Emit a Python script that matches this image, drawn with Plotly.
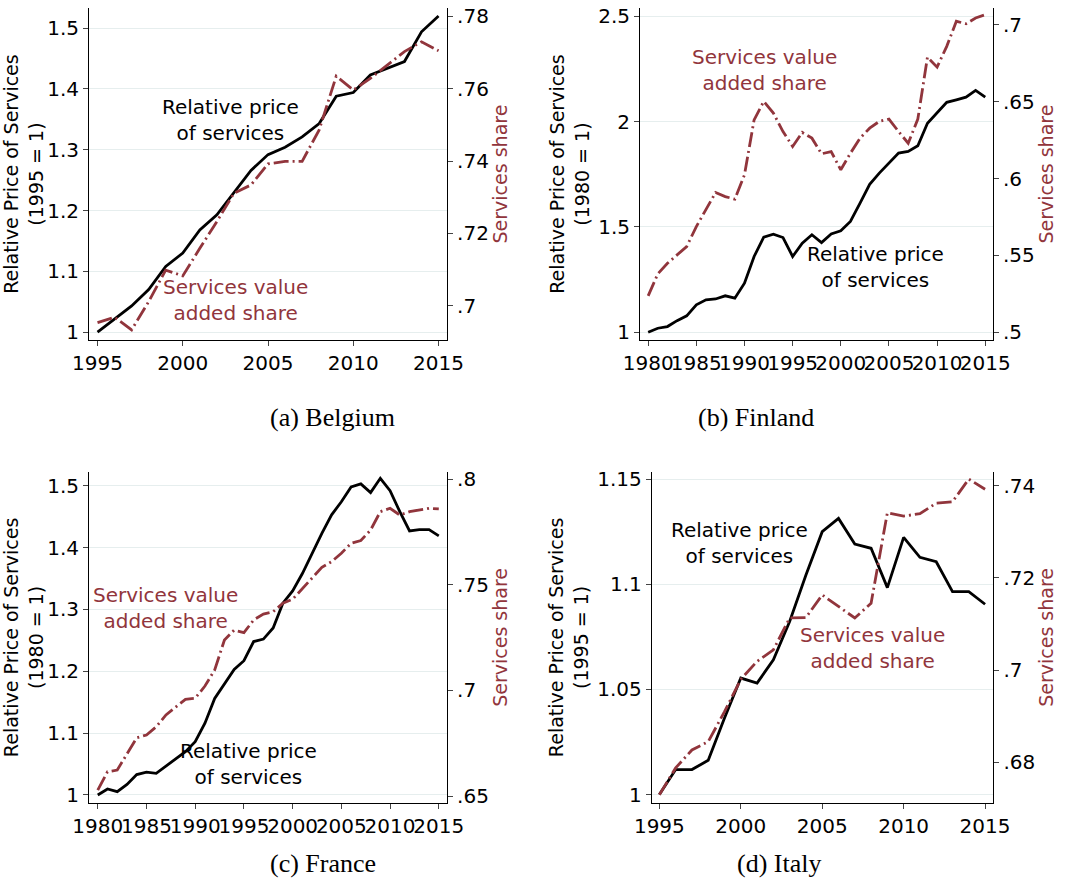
import plotly.graph_objects as go

RED = "#91353c"
GRID = "#e6eeee"
FONT = "DejaVu Sans"

# (a) Belgium
be_years = list(range(1995, 2016))
be_price = [1.0, 1.021, 1.043, 1.07, 1.108, 1.13, 1.168, 1.193, 1.229, 1.266, 1.292,
            1.304, 1.321, 1.343, 1.388, 1.394, 1.423, 1.434, 1.445, 1.494, 1.52]
be_share = [.6954, .6969, .6934, .7012, .7099, .7083, .7159, .7233, .7311, .7334, .7392,
            .7399, .7399, .7486, .7634, .7596, .7628, .7665, .7702, .7729, .7704]

# (b) Finland
fi_years = list(range(1980, 2016))
fi_price = [1.0, 1.019, 1.027, 1.055, 1.078, 1.13, 1.154, 1.158, 1.173, 1.162,
            1.233, 1.36, 1.452, 1.466, 1.45, 1.36, 1.423, 1.463, 1.426, 1.467,
            1.482, 1.526, 1.613, 1.703, 1.756, 1.803, 1.851, 1.859, 1.886, 1.993,
            2.041, 2.092, 2.104, 2.117, 2.149, 2.117]
fi_share = [.5237, .538, .5449, .5503, .5558, .5688, .5796, .5909, .5883, .5866,
            .6024, .6382, .6502, .6426, .6306, .6209, .63, .6263, .6161, .6176,
            .6057, .6165, .6263, .6328, .6372, .6387, .6306, .623, .6387, .679,
            .6725, .686, .7023, .7007, .7044, .7066]

# (c) France
fr_years = list(range(1980, 2016))
fr_price = [1.0, 1.0097, 1.0054, 1.017, 1.033, 1.037, 1.035, 1.047, 1.059, 1.07,
            1.086, 1.116, 1.156, 1.18, 1.203, 1.217, 1.248, 1.252, 1.27, 1.31,
            1.33, 1.358, 1.391, 1.423, 1.453, 1.474, 1.498, 1.503, 1.489, 1.512,
            1.492, 1.458, 1.427, 1.429, 1.429, 1.419]
fr_share = [.6528, .6615, .6623, .6702, .6776, .6789, .6828, .6884, .6923, .6958,
            .6963, .7021, .7097, .7239, .7286, .7274, .7334, .7362, .7373, .7413,
            .7432, .7484, .7531, .7583, .761, .765, .7697, .771, .776, .7847,
            .7863, .7831, .7847, .7855, .7863, .786]

# (d) Italy
it_years = list(range(1995, 2016))
it_price = [1.0, 1.0119, 1.0119, 1.0163, 1.0364, 1.0554, 1.053, 1.0641, 1.0823, 1.1044,
            1.125, 1.1313, 1.1191, 1.1171, 1.0984, 1.1223, 1.1128, 1.1107, 1.0965,
            1.0965, 1.0905]
it_share = [.673, .6788, .6827, .6845, .691, .698, .7019, .7044, .7113, .7114, .7163,
            .7138, .7113, .7145, .7341, .7334, .7339, .7362, .7365, .7414, .7392]

panels = [
    dict(years=be_years, price=be_price, share=be_share, caption="(a) Belgium",
         base="1995", xr=[1994.5, 2015.5], xt=list(range(1995, 2016, 5)),
         yl=[0.987, 1.533], ylt=[1, 1.1, 1.2, 1.3, 1.4, 1.5],
         yr=[0.6906, 0.7822], yrt=[.7, .72, .74, .76, .78],
         xd=[0.0834, 0.419], yd=[0.6205, 0.991], cap_y=0.5335,
         black_lab=(2002.8, 1.349), red_lab=(2003.1, 1.053)),
    dict(years=fi_years, price=fi_price, share=fi_share, caption="(b) Finland",
         base="1980", xr=[1979.15, 2015.8], xt=list(range(1980, 2016, 5)),
         yl=[0.963, 2.54], ylt=[1, 1.5, 2, 2.5],
         yr=[0.495, 0.7109], yrt=[.5, .55, .6, .65, .7],
         xd=[0.5998, 0.9306], yd=[0.6205, 0.991], cap_y=0.5335,
         black_lab=(2003.6, 1.31), red_lab=(1992.1, 2.247)),
    dict(years=fr_years, price=fr_price, share=fr_share, caption="(c) France",
         base="1980", xr=[1979.1, 2015.85], xt=list(range(1980, 2016, 5)),
         yl=[0.987, 1.5226], ylt=[1, 1.1, 1.2, 1.3, 1.4, 1.5],
         yr=[0.6467, 0.8036], yrt=[.65, .7, .75, .8],
         xd=[0.0834, 0.419], yd=[0.1038, 0.4735], cap_y=0.018,
         black_lab=(1995.5, 1.05), red_lab=(1987.0, 1.302)),
    dict(years=it_years, price=it_price, share=it_share, caption="(d) Italy",
         base="1995", xr=[1994.53, 2015.51], xt=list(range(1995, 2016, 5)),
         yl=[0.996, 1.1535], ylt=[1, 1.05, 1.1, 1.15],
         yr=[0.6712, 0.743], yrt=[.68, .7, .72, .74],
         xd=[0.6108, 0.931], yd=[0.1038, 0.4735], cap_y=0.018,
         black_lab=(1999.9, 1.1196), red_lab=(2008.1, 1.0698)),
]


def fmt_right(v):
    # Stata style: no leading zero
    return f"{v:g}".lstrip("0")


fig = go.Figure()
layout = {}
annotations = []

for i, p in enumerate(panels):
    xa = f"x{i + 1}" if i else "x"
    yl_name = f"y{2 * i + 1}" if i else "y"
    yr_name = f"y{2 * i + 2}"
    fig.add_trace(go.Scatter(x=p["years"], y=p["share"], mode="lines",
                             line=dict(color=RED, width=2.8, dash="15px,4px,2px,4px"),
                             xaxis=xa, yaxis=yr_name, showlegend=False))
    fig.add_trace(go.Scatter(x=p["years"], y=p["price"], mode="lines",
                             line=dict(color="black", width=2.8),
                             xaxis=xa, yaxis=yl_name, showlegend=False))

    xkey = "xaxis" + (str(i + 1) if i else "")
    ylkey = "yaxis" + (str(2 * i + 1) if i else "")
    yrkey = "yaxis" + str(2 * i + 2)
    tick_font = dict(family=FONT, size=20, color="black")
    layout[xkey] = dict(domain=p["xd"], anchor=yl_name, range=p["xr"],
                        tickvals=p["xt"], ticks="outside", ticklen=5, tickangle=0,
                        showline=True, linecolor="black", linewidth=1,
                        showgrid=False, zeroline=False, tickfont=tick_font,
                        automargin=False)
    layout[ylkey] = dict(domain=p["yd"], anchor=xa, range=p["yl"],
                         tickvals=p["ylt"], ticktext=[f"{v:g}" for v in p["ylt"]],
                         ticks="outside", ticklen=5, showline=True,
                         linecolor="black", linewidth=1, showgrid=True,
                         gridcolor=GRID, gridwidth=1, zeroline=False,
                         tickfont=tick_font, automargin=False,
                         title=dict(text=f"Relative Price of Services<br>({p['base']} = 1)",
                                    font=dict(family=FONT, size=19, color="black"),
                                    standoff=3))
    layout[yrkey] = dict(overlaying=yl_name, side="right", anchor=xa,
                         range=p["yr"], tickvals=p["yrt"],
                         ticktext=[fmt_right(v) for v in p["yrt"]],
                         ticks="outside", ticklen=5, showline=True,
                         linecolor="black", linewidth=1, showgrid=False,
                         zeroline=False, tickfont=tick_font, automargin=False,
                         title=dict(text="Services share",
                                    font=dict(family=FONT, size=19, color=RED),
                                    standoff=2))

    bx, by = p["black_lab"]
    rx, ry = p["red_lab"]
    annotations.append(dict(x=bx, y=by, xref=xa, yref=yl_name,
                            text="Relative price<br>of services", showarrow=False,
                            font=dict(family=FONT, size=20, color="black")))
    annotations.append(dict(x=rx, y=ry, xref=xa, yref=yl_name,
                            text="Services value<br>added share", showarrow=False,
                            font=dict(family=FONT, size=20, color=RED)))
    annotations.append(dict(x=sum(p["xd"]) / 2, y=p["cap_y"], xref="paper", yref="paper",
                            text=p["caption"], showarrow=False,
                            font=dict(family="Liberation Serif", size=26, color="black")))

fig.update_layout(
    width=1067,
    height=896,
    margin=dict(l=0, r=0, t=0, b=0),
    plot_bgcolor="white",
    paper_bgcolor="white",
    annotations=annotations,
    **layout,
)

# drop the default 8px page margin so the figure fills the window
fig.write_html("out.html", config={"displayModeBar": False},
               post_script="document.body.style.margin='0';")
